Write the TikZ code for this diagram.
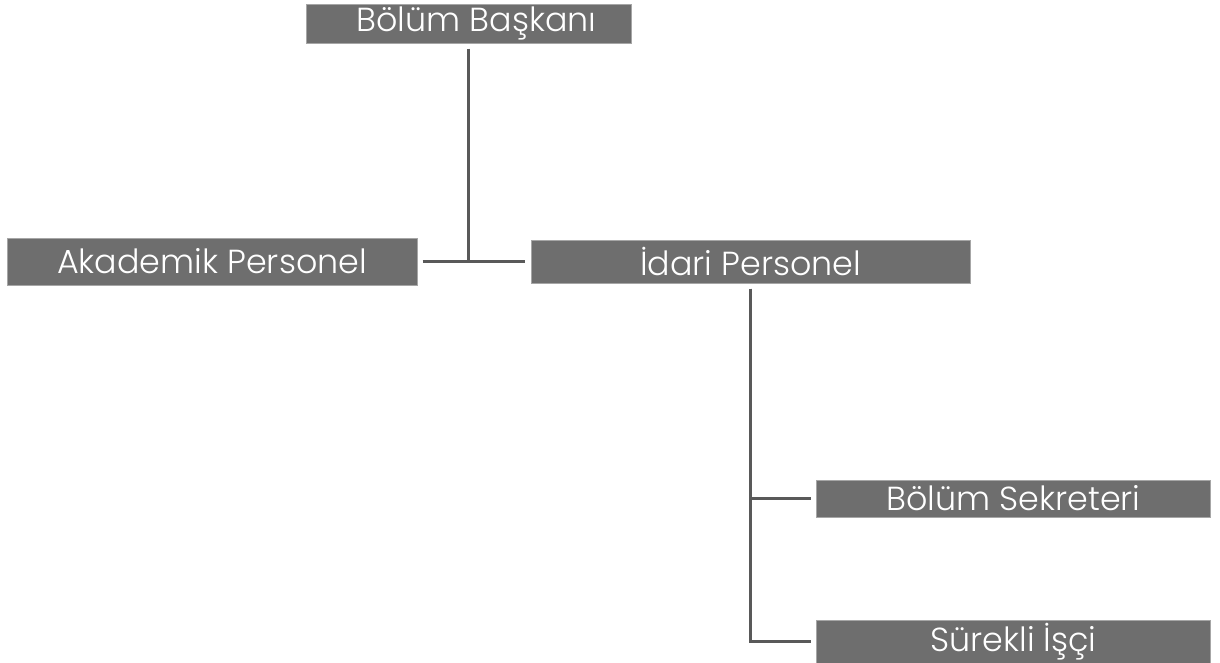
\documentclass[tikz,border=0pt]{standalone}
\usepackage{fontspec}
\setmainfont{Poppins Light}
\definecolor{boxgray}{HTML}{6E6E6E}
\definecolor{edgegray}{HTML}{A6A6A6}
\definecolor{linegray}{HTML}{595959}
\begin{document}
\begin{tikzpicture}[x=0.75pt, y=-0.75pt,
        box/.style = {fill=boxgray, draw=edgegray, line width=0.6pt, text=white, inner sep=0pt, font=\fontsize{25}{28}\selectfont},
        link/.style = {draw=linegray, line width=2.3pt}]
        \useasboundingbox (0,0) rectangle (1220,663);
        \node[box, minimum width=325*0.75pt, minimum height=39*0.75pt] (baskan) at (468.5,23.5) {\hspace{12pt}Bölüm Başkanı};
        \node[box, minimum width=410*0.75pt, minimum height=47*0.75pt] (akademik) at (212,261.5) {Akademik Personel};
        \node[box, minimum width=439*0.75pt, minimum height=43*0.75pt] (idari) at (750.5,261.5) {İdari Personel};
        \node[box, minimum width=394*0.75pt, minimum height=37*0.75pt] (sekreter) at (1013.5,498.5) {Bölüm Sekreteri};
        \node[box, minimum width=394*0.75pt, minimum height=43*0.75pt] (isci) at (1013.5,641.5) {Sürekli İşçi};

        \draw[link, shorten <=4pt, shorten >=4pt] (akademik) -- (idari);
        \draw[link, shorten <=4pt] (baskan) -- (baskan |- idari);

        \draw[link, shorten <=4pt, shorten >=4pt] (idari) |- (sekreter);
        \draw[link, shorten <=4pt, shorten >=4pt] (idari) |- (isci);
\end{tikzpicture}
\end{document}
